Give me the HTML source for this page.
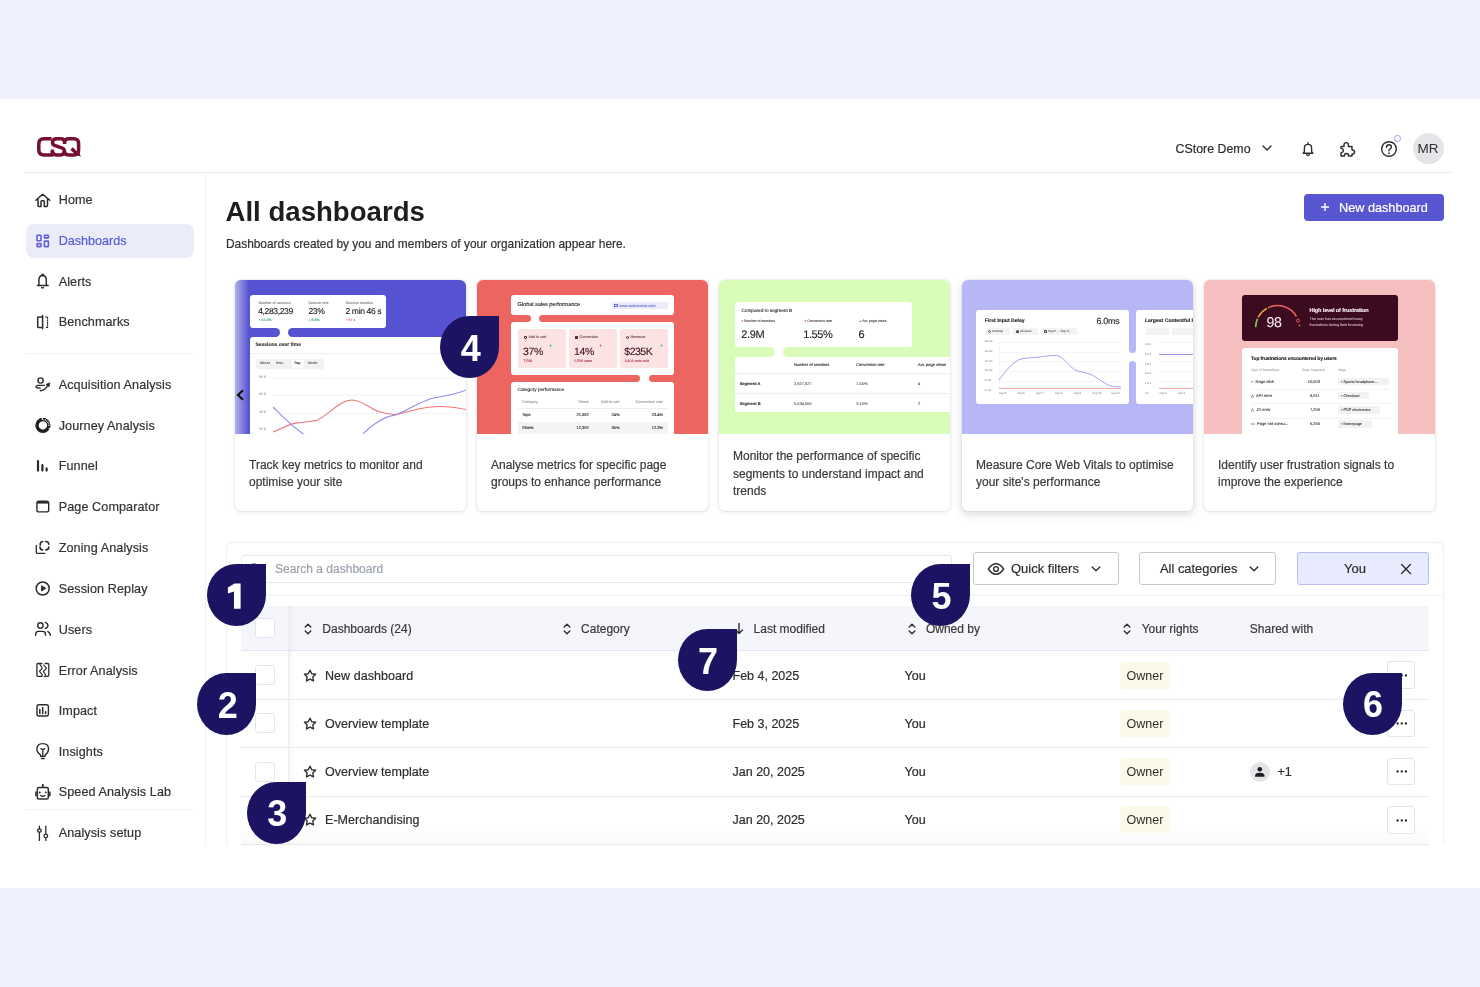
<!DOCTYPE html>
<html><head><meta charset="utf-8">
<style>
*{box-sizing:border-box;margin:0;padding:0}
html,body{width:1480px;height:987px;overflow:hidden}
body{background:#eff2fd;font-family:"Liberation Sans",sans-serif;color:#2b2b2b;position:relative}
.a{position:absolute}
.t{position:absolute;white-space:nowrap;line-height:1;-webkit-text-stroke:0.2px currentColor}
svg{position:absolute;overflow:visible}
.panel{left:0;top:99px;width:1480px;height:789px;background:#fff}
.nav{left:58.7px;font-size:12.6px;color:#333;letter-spacing:0.1px}
.ic{fill:none;stroke:#2e2e2e;stroke-width:1.4;stroke-linecap:round;stroke-linejoin:round}
.hd{font-size:12px;color:#3a3a3a}
.rw{font-size:12.5px;color:#2e2e2e}
.card{position:absolute;top:280px;width:231px;height:231px;background:#fff;border-radius:6px;box-shadow:0 0 0 1px rgba(20,30,70,0.035),0 1px 4px rgba(20,30,70,0.11);overflow:hidden}
.card .img{position:absolute;left:0;top:0;width:231px;height:154px;overflow:hidden}
.card .txt{position:absolute;left:14px;top:434px;font-size:12px;line-height:17.3px;color:#3a3a3a;-webkit-text-stroke:0.2px currentColor}
.wb{position:absolute;background:#fff;border-radius:3px}
.tiny{position:absolute;white-space:nowrap;line-height:1;font-size:4px;color:#999;text-rendering:geometricPrecision;-webkit-text-stroke:0.12px currentColor}
.badge{position:absolute;width:59px;height:62px;background:#1c1462;border-radius:50% 0 50% 50%;color:#fff;font-weight:bold;font-size:36px;text-align:center;line-height:62px;padding-left:2px;padding-top:1.7px}
.chk{position:absolute;left:254.5px;width:20px;height:20px;border:1px solid #e4e5ea;border-radius:3px;background:#fff}
.more{position:absolute;left:1387px;width:27.6px;height:27.8px;border:1px solid #e4e5ea;border-radius:3px;background:#fff}
.owner{position:absolute;left:1120px;width:50px;height:27px;background:#fbf9e9;border-radius:3px;font-size:12.5px;color:#2e2e2e;line-height:27px;text-align:center;padding-top:1px}
.rline{position:absolute;left:240.5px;width:1188.5px;height:1px;background:#ebecf0}
</style></head><body><div style="position:absolute;left:0;top:0;width:1480px;height:987px;will-change:transform;overflow:hidden">
<div class="a panel"></div>
<!-- HEADER -->
<svg style="left:37px;top:136.7px" width="44" height="20" viewBox="0 0 44 20">
<g fill="none" stroke="#76102f" stroke-width="3.5" stroke-linejoin="round">
<path d="M15.4 12.4V17.9H7Q1.8 17.9 1.8 12.7V7Q1.8 1.8 7 1.8H14.6"/>
<path d="M27.6 6.9V5.6Q27.6 1.8 23.8 1.8H19.8Q15.5 1.8 15.5 5.6Q15.5 7.6 17.6 8.4L25.3 11.2Q27.4 12 27.4 14.3V13.8Q27.4 17.9 23.6 17.9H19.5Q15.4 17.9 15.4 14"/>
<path d="M27.6 5.6Q27.6 1.8 31.4 1.8H36.8Q41.6 1.8 41.6 6.8V12.9Q41.6 17.9 36.8 17.9H31.3Q27.4 17.9 27.4 14"/>
<path d="M34.6 11.4L39.6 16.4" stroke-linejoin="miter"/>
</g>
<path d="M37.3 17.6L43.9 19.5L41.4 13.6Z" fill="#76102f"/>
</svg>
<div class="a" style="left:24px;top:172px;width:1428px;height:1px;background:#ececef"></div>
<div class="t" style="left:1175.5px;top:142.8px;font-size:12.4px;color:#2e2e2e">CStore Demo</div>
<svg style="left:1262px;top:145px" width="10" height="6" viewBox="0 0 10 6"><path d="M1 1L5 5L9 1" class="ic" stroke-width="1.5"/></svg>
<!-- bell -->
<svg style="left:1300px;top:141px" width="16" height="16" viewBox="0 0 16 16"><path class="ic" stroke-width="1.5" d="M3.2 12.2H12.8L11.6 10.6V7Q11.6 3.4 8 3.4Q4.4 3.4 4.4 7V10.6Z M8 1.6V3.2 M6.6 13.8Q8 15 9.4 13.8"/></svg>
<!-- puzzle -->
<svg style="left:1339px;top:140px" width="18" height="18" viewBox="0 0 18 18"><path class="ic" stroke-width="1.5" d="M2 6.5H5V5Q5 2.6 7.2 2.6Q9.4 2.6 9.4 5V6.5H13V10Q15.6 10 15.6 12.1Q15.6 14.2 13 14.2V16H9.6Q9.6 13.5 7.5 13.5Q5.4 13.5 5.4 16H2V12.6Q4.3 12.6 4.3 10.5Q4.3 8.4 2 8.4Z"/></svg>
<!-- help -->
<svg style="left:1380px;top:140px" width="18" height="18" viewBox="0 0 18 18"><circle cx="9" cy="9" r="7.3" class="ic" stroke-width="1.5"/><path class="ic" stroke-width="1.5" d="M6.6 7.2Q6.6 4.8 9 4.8Q11.4 4.8 11.4 7Q11.4 8.4 9.8 9.2Q9 9.6 9 10.8"/><circle cx="9" cy="13.2" r="0.9" fill="#2e2e2e"/></svg>
<div class="a" style="left:1394px;top:135px;width:6.5px;height:6.5px;border-radius:50%;border:1.3px solid #9ea0f0;background:#fff"></div>
<div class="a" style="left:1412.5px;top:132.5px;width:31px;height:31px;border-radius:50%;background:#e5e5e9;font-size:13.5px;color:#2e2e2e;text-align:center;line-height:31px">MR</div>

<!-- SIDEBAR -->
<div class="a" style="left:205px;top:173px;width:1px;height:672px;background:#f1f1f3"></div>
<div class="a" style="left:26px;top:224px;width:168px;height:33.5px;background:#eaedf8;border-radius:8px"></div>
<div class="a" style="left:26px;top:352.5px;width:168px;height:1px;background:#f0f0f2"></div>
<div class="a" style="left:26px;top:808.5px;width:168px;height:1px;background:#f0f0f2"></div>

<div class="t nav" style="top:193.7px">Home</div>
<div class="t nav" style="top:235.1px;color:#5b5bd6;letter-spacing:0">Dashboards</div>
<div class="t nav" style="top:275.8px">Alerts</div>
<div class="t nav" style="top:316.3px">Benchmarks</div>
<div class="t nav" style="top:378.7px">Acquisition Analysis</div>
<div class="t nav" style="top:419.8px">Journey Analysis</div>
<div class="t nav" style="top:460.4px">Funnel</div>
<div class="t nav" style="top:501.4px">Page Comparator</div>
<div class="t nav" style="top:542.0px">Zoning Analysis</div>
<div class="t nav" style="top:582.7px">Session Replay</div>
<div class="t nav" style="top:623.5px">Users</div>
<div class="t nav" style="top:664.5px">Error Analysis</div>
<div class="t nav" style="top:705.1px">Impact</div>
<div class="t nav" style="top:745.7px">Insights</div>
<div class="t nav" style="top:786.2px">Speed Analysis Lab</div>
<div class="t nav" style="top:827.4px">Analysis setup</div>

<!-- sidebar icons (image coords) -->
<svg style="left:0;top:0" width="220" height="900" viewBox="0 0 220 900">
<g fill="none" stroke="#2b2b2b" stroke-width="1.5" stroke-linecap="round" stroke-linejoin="round">
<path d="M35.9 200.3L42.7 194.2L49.8 200.3 M38 199V205.6Q38 206.4 38.8 206.4H41V201.6Q41 200.8 41.8 200.8H43.5Q44.3 200.8 44.3 201.6V206.4H46.7Q47.5 206.4 47.5 205.6V199"/>
<path d="M37.4 285.5H48.2 M38.9 285.3V280.2Q38.9 275.4 42.6 275.4Q46.3 275.4 46.3 280.2V285.3"/>
<circle cx="42.6" cy="274.9" r="0.6" fill="#2b2b2b"/>
<path d="M41.6 287.4Q42.6 288.6 43.6 287.4" stroke-width="1.3"/>
<path d="M42.5 316.9H38.4Q37.7 316.9 37.7 317.6V326.8Q37.7 327.5 38.4 327.5H42.5 M42.6 315.5V328.7"/>
<path d="M45.5 317H47.6V327.4H45.5" stroke-width="1.1" stroke-dasharray="1.1 1.4"/>
<circle cx="40.6" cy="380.5" r="2.6" stroke-width="1.4"/>
<path d="M44.3 385.4H37.6Q35.7 385.9 36 387.1Q36.5 388.1 40.4 388.1" stroke-width="1.4"/>
<path d="M40.3 390.7Q46.5 390.2 48 384.2" stroke-width="1.4"/>
<path d="M46.4 384.3L49.9 382.9L49.1 386.5Z" fill="#2b2b2b" stroke-width="0.8"/>
<path d="M38 461.2V470.6 M42.4 465V470.6 M46.6 468.4V470.6" stroke-width="2.2"/>
<rect x="36.9" y="501.3" width="11.8" height="10.6" rx="2" stroke-width="1.4"/>
<path d="M37 502.4H48.6" stroke-width="2.4" stroke-linecap="butt"/>
<path d="M40.2 545.2Q39.9 541.8 42.8 541.5 M45.7 541.5Q48.7 541.6 48.8 544.2 M48.8 547.1Q48.7 549.7 45.9 549.9 M42.6 549.9Q39.9 549.7 40 547" stroke-width="1.6"/>
<path d="M36.3 545.3V552.2Q36.3 553.4 37.5 553.4H44.8" stroke-width="1.3"/>
<circle cx="42.7" cy="588.5" r="6.5"/>
<path d="M41.7 586V591L45.3 588.5Z" fill="#2b2b2b" stroke-width="1"/>
<circle cx="40.4" cy="625.4" r="2.7" stroke-width="1.4"/>
<path d="M45.4 622.3Q47.9 623.2 47.9 625.4Q47.9 627.6 45.4 628.5 M35.7 635.3V634Q35.7 631.4 38.4 631.4H42.6Q45.5 631.4 45.5 634V635.3 M47.9 631.6Q50.3 632.6 50.3 635.3" stroke-width="1.4"/>
<path d="M41.9 663.5H38Q36.9 663.5 36.9 664.6V675.2Q36.9 676.3 38 676.3H41.9 M45.2 663.5H47.7Q48.8 663.5 48.8 664.6V675.2Q48.8 676.3 47.7 676.3H44.1" stroke-width="1.3"/>
<path d="M39.9 664.2L42.4 668.2L39.4 671.4L42.3 674.7L41.6 676.2 M43.7 665L46.4 668.4L43.4 671.4L45.8 675.3" stroke-width="1.2"/>
<rect x="37" y="704.8" width="11.4" height="11.2" rx="2" stroke-width="1.4"/>
<path d="M39.8 709.5V713.5 M42.7 707.4V713.5 M45.6 711.8V713.5" stroke-width="1.5"/>
<path d="M40.5 754.8Q36.9 752.5 36.9 749Q36.9 743.6 42.8 743.6Q48.6 743.6 48.6 749Q48.6 752.5 45.2 754.8L45 756.4H40.7Z" stroke-width="1.4"/>
<path d="M41 748.6L42.8 749.8L44.6 748.6 M42.8 749.8V755.6 M41.4 758.5H44.2" stroke-width="1.3"/>
<rect x="37.4" y="787.4" width="10.9" height="11.6" rx="1.6" stroke-width="1.5"/>
<path d="M42.8 787V785.6 M35.9 792V795.8 M49.8 792V795.8 M40.8 795.5Q42.8 796.9 44.8 795.5" stroke-width="1.5"/>
<path d="M39.4 826.2V829 M39.4 832.2V840.4 M45.8 826.2V833.4 M45.8 838.6V840.4" stroke-width="1.3"/>
<circle cx="39.4" cy="830.6" r="1.8" stroke-width="1.3"/>
<circle cx="45.8" cy="836" r="1.8" stroke-width="1.3"/>
</g>
<g fill="#2b2b2b"><circle cx="42.8" cy="785.1" r="1"/><circle cx="39.8" cy="792.4" r="0.95"/><circle cx="45.8" cy="792.4" r="0.95"/></g>
<g fill="none" stroke="#6060d8" stroke-width="1.6"><rect x="37" y="235.3" width="4" height="5.4" rx="0.5"/><rect x="44.4" y="235.3" width="4" height="2.6" rx="0.5"/><rect x="37" y="243.6" width="4" height="3" rx="0.5"/><rect x="44.4" y="241.1" width="4" height="5.5" rx="0.5"/></g>
<circle cx="42.9" cy="425.4" r="5.9" fill="none" stroke="#1e1e1e" stroke-width="3.4"/>
<path d="M42.3 417.2V420 M48.6 428.1L51.2 429.4" stroke="#fff" stroke-width="1"/>
<path d="M43.6 419.6A5.9 5.9 0 0 1 48.7 426.4" fill="none" stroke="#fff" stroke-width="1.6" stroke-dasharray="0.7 0.9"/>
</svg>

<!-- TITLE -->
<div class="t" style="left:225.5px;top:197.7px;font-size:27.6px;font-weight:bold;color:#1e1e1e;letter-spacing:0px;-webkit-text-stroke:0">All dashboards</div>
<div class="t" style="left:226px;top:238.9px;font-size:11.9px;color:#333">Dashboards created by you and members of your organization appear here.</div>
<div class="a" style="left:1304px;top:193.5px;width:139.5px;height:27.7px;background:#5956d2;border-radius:4px"></div>
<svg style="left:1320px;top:202px" width="10" height="10" viewBox="0 0 10 10"><path d="M5 1V9M1 5H9" stroke="#fff" stroke-width="1.4" fill="none"/></svg>
<div class="t" style="left:1339px;top:201.8px;font-size:12.7px;color:#fff">New dashboard</div>

<!-- CARDS -->
<!-- card 1 -->
<div class="card" style="left:235px">
 <div class="img" style="background:#5553d1">
  <div class="wb" style="left:14.7px;top:14.7px;width:136.6px;height:33px"></div>
  <div class="a" style="left:30px;top:47.5px;width:38px;height:9.5px;background:#fff"></div>
  <div class="a" style="left:0;top:47.6px;width:45.2px;height:9.3px;background:#5553d1;border-radius:0 4.6px 4.6px 0"></div>
  <div class="a" style="left:52.7px;top:47.6px;width:190px;height:9.3px;background:#5553d1;border-radius:4.6px 0 0 4.6px"></div>
  <div class="wb" style="left:14.7px;top:56.8px;width:230px;height:110px;border-radius:3px 0 0 0"></div>
  <div class="a" style="left:0;top:0;width:14px;height:154px;background:linear-gradient(90deg,rgba(255,255,255,0.55),rgba(255,255,255,0))"></div>
  <div class="tiny" style="left:23.4px;top:21.6px;font-size:3.7px;color:#888">Number of sessions</div>
  <div class="tiny" style="left:73.6px;top:21.6px;font-size:3.7px;color:#888">Bounce rate</div>
  <div class="tiny" style="left:110.7px;top:21.6px;font-size:3.7px;color:#888">Session duration</div>
  <div class="tiny" style="left:23.2px;top:27.4px;font-size:8.6px;color:#1e1e1e;letter-spacing:-0.4px">4,283,239</div>
  <div class="tiny" style="left:73.4px;top:27.4px;font-size:8.6px;color:#1e1e1e;letter-spacing:-0.4px">23%</div>
  <div class="tiny" style="left:110.5px;top:27.4px;font-size:8.6px;color:#1e1e1e;letter-spacing:-0.4px">2 min 46 s</div>
  <div class="tiny" style="left:23.4px;top:38.7px;font-size:3.6px;color:#3aa76d">↑ 22.4%</div>
  <div class="tiny" style="left:73.6px;top:38.7px;font-size:3.6px;color:#3aa76d">↓ 8.8%</div>
  <div class="tiny" style="left:110.7px;top:38.7px;font-size:3.6px;color:#e05a5a">↑ 57 s</div>
  <div class="tiny" style="left:20.4px;top:62.5px;font-size:5px;color:#333;font-weight:bold">Sessions over time</div>
  <div class="a" style="left:14.7px;top:72.6px;width:220px;height:0.8px;background:#f0f0f2"></div>
  <div class="a" style="left:20.9px;top:79.4px;width:68.5px;height:9.5px;background:#f2f2f4;border-radius:1.5px"></div>
  <div class="a" style="left:56.8px;top:80.2px;width:12.6px;height:8px;background:#fff;border-radius:1px"></div>
  <div class="tiny" style="left:25px;top:82.4px;font-size:3.4px;color:#666">Minute</div>
  <div class="tiny" style="left:41px;top:82.4px;font-size:3.4px;color:#666">Hour</div>
  <div class="tiny" style="left:59.5px;top:82.4px;font-size:3.4px;color:#333">Day</div>
  <div class="tiny" style="left:73px;top:82.4px;font-size:3.4px;color:#666">Month</div>
  <div class="tiny" style="left:24px;top:96px;font-size:3.4px;color:#aaa">80 K</div>
  <div class="tiny" style="left:24px;top:113.3px;font-size:3.4px;color:#aaa">60 K</div>
  <div class="tiny" style="left:24px;top:130.5px;font-size:3.4px;color:#aaa">40 K</div>
  <div class="tiny" style="left:24px;top:148px;font-size:3.4px;color:#aaa">20 K</div>
  <div class="a" style="left:36.8px;top:97.8px;width:200px;height:0.6px;background:#f4f4f6"></div>
  <div class="a" style="left:36.8px;top:115px;width:200px;height:0.6px;background:#f4f4f6"></div>
  <div class="a" style="left:36.8px;top:132.8px;width:200px;height:0.6px;background:#f4f4f6"></div>
  <svg style="left:0;top:0" width="231" height="154" viewBox="0 0 231 154">
   <path d="M38.1 152.1C48 148 55 143.5 62 142.9S76 141 81.9 140.4C95 134 105 120 117 120C128 120 136 130 145.4 132C154 134 160 135 162 134.6C175 131 185 128 195.6 127C205 126 215 126 231 129.5" fill="none" stroke="#f07474" stroke-width="1.1"/>
   <path d="M38.1 127C47 136 58 148 70 155 M127 155C135 146 148 137 158.8 135.4C170 132 182 123 195.6 118.7C208 116 220 115 231 110" fill="none" stroke="#8e8ef4" stroke-width="1.1"/>
  </svg>
  <svg style="left:0.5px;top:109px" width="9" height="12" viewBox="0 0 9 12"><path d="M7 1.2L2 6L7 10.8" fill="none" stroke="#111" stroke-width="2.2"/></svg>
 </div>
 <div class="txt" style="top:155.8px;height:77px;display:flex;align-items:center">Track key metrics to monitor and<br>optimise your site</div>
</div>

<!-- card 2 -->
<div class="card" style="left:477px">
 <div class="img" style="background:#ec6561">
  <div class="wb" style="left:34.4px;top:14.7px;width:162.5px;height:20.1px"></div>
  <div class="wb" style="left:34.4px;top:42.3px;width:162.5px;height:52.7px"></div>
  <div class="wb" style="left:34.4px;top:102px;width:162.5px;height:60px;border-radius:3px 3px 0 0"></div>
  <div class="a" style="left:40px;top:34.6px;width:36px;height:7.8px;background:#fff"></div>
  <div class="a" style="left:150px;top:94.8px;width:35px;height:7.3px;background:#fff"></div>
  <div class="a" style="left:20px;top:35px;width:33.7px;height:7px;background:#ec6561;border-radius:0 3.5px 3.5px 0"></div>
  <div class="a" style="left:62.3px;top:35px;width:150px;height:7px;background:#ec6561;border-radius:3.5px 0 0 3.5px"></div>
  <div class="a" style="left:20px;top:95.2px;width:143.1px;height:6.8px;background:#ec6561;border-radius:0 3.4px 3.4px 0"></div>
  <div class="a" style="left:171.8px;top:95.2px;width:40px;height:6.8px;background:#ec6561;border-radius:3.4px 0 0 3.4px"></div>
  <div class="tiny" style="left:40.6px;top:23px;font-size:5.6px;color:#2a2a2a;letter-spacing:-0.05px">Global sales performance</div>
  <div class="a" style="left:134.7px;top:21.9px;width:56.3px;height:7px;background:#ebebfc;border-radius:1px"></div>
  <div class="tiny" style="left:142.5px;top:23.8px;font-size:3.9px;color:#7070e0">www.activewear.com</div>
  <div class="a" style="left:137.4px;top:23.6px;width:3.6px;height:3.4px;border:0.6px solid #6b6be0;border-top-width:1px;border-radius:0.5px"></div>
  <div class="a" style="left:40.6px;top:48.5px;width:48px;height:39.6px;background:#fbe3e3;border-radius:2px"></div>
  <div class="a" style="left:91.9px;top:48.5px;width:47.8px;height:39.6px;background:#fbe3e3;border-radius:2px"></div>
  <div class="a" style="left:142.7px;top:48.5px;width:48.3px;height:39.6px;background:#fbe3e3;border-radius:2px"></div>
  <div class="tiny" style="left:51.5px;top:55.8px;font-size:3.7px;color:#7a4a58">Add to cart</div>
  <div class="tiny" style="left:102.5px;top:55.8px;font-size:3.7px;color:#7a4a58">Conversion</div>
  <div class="tiny" style="left:153.5px;top:55.8px;font-size:3.7px;color:#7a4a58">Revenue</div>
  <div class="a" style="left:47px;top:56.3px;width:3px;height:2.8px;border:0.6px solid #5a2a38;border-radius:0 0 1px 1px"></div>
  <div class="a" style="left:97.8px;top:56.3px;width:3px;height:2.8px;background:#5a2a38;border-radius:0.5px"></div>
  <div class="a" style="left:148.6px;top:56.2px;width:3px;height:3px;border:0.6px solid #5a2a38;border-radius:50%"></div>
  <div class="tiny" style="left:46px;top:67px;font-size:10.5px;color:#3d1020;letter-spacing:-0.3px">37%</div>
  <div class="tiny" style="left:97px;top:67px;font-size:10.5px;color:#3d1020;letter-spacing:-0.3px">14%</div>
  <div class="tiny" style="left:147.3px;top:67px;font-size:10.5px;color:#3d1020;letter-spacing:-0.5px">$235K</div>
  <div class="tiny" style="left:72.2px;top:64px;font-size:4.4px;color:#3aa76d;font-weight:bold">+</div>
  <div class="tiny" style="left:122.3px;top:64px;font-size:4.4px;color:#e05a5a;font-weight:bold">+</div>
  <div class="tiny" style="left:183.3px;top:64px;font-size:4.4px;color:#3aa76d;font-weight:bold">+</div>
  <div class="tiny" style="left:46.5px;top:80.2px;font-size:3.5px;color:#b04060">7,549</div>
  <div class="tiny" style="left:97px;top:80.2px;font-size:3.5px;color:#b04060">1,509 users</div>
  <div class="tiny" style="left:147.7px;top:80.2px;font-size:3.5px;color:#b04060">3,404 units sold</div>
  <div class="tiny" style="left:40.6px;top:107.8px;font-size:4.7px;color:#2a2a2a">Category performance</div>
  <div class="tiny" style="left:45px;top:119.5px;font-size:3.9px;color:#999">Category</div>
  <div class="tiny" style="right:119.3px;top:119.5px;font-size:3.9px;color:#999">Views</div>
  <div class="tiny" style="right:88.4px;top:119.5px;font-size:3.9px;color:#999">Add to cart</div>
  <div class="tiny" style="right:45px;top:119.5px;font-size:3.9px;color:#999">Conversion rate</div>
  <div class="a" style="left:40.6px;top:128.3px;width:150px;height:0.6px;background:#eee"></div>
  <div class="tiny" style="left:45px;top:133px;font-size:4px;color:#2a2a2a">Tops</div>
  <div class="tiny" style="right:119.3px;top:133px;font-size:4px;color:#2a2a2a">21,382</div>
  <div class="tiny" style="right:88.4px;top:133px;font-size:4px;color:#2a2a2a">24%</div>
  <div class="tiny" style="right:45px;top:133px;font-size:4px;color:#2a2a2a">23.4%</div>
  <div class="a" style="left:40.6px;top:142px;width:150px;height:12px;background:#f4f4f2"></div>
  <div class="tiny" style="left:45px;top:146px;font-size:4px;color:#2a2a2a">Shorts</div>
  <div class="tiny" style="right:119.3px;top:146px;font-size:4px;color:#2a2a2a">12,392</div>
  <div class="tiny" style="right:88.4px;top:146px;font-size:4px;color:#2a2a2a">36%</div>
  <div class="tiny" style="right:45px;top:146px;font-size:4px;color:#2a2a2a">12.3%</div>
 </div>
 <div class="txt" style="top:155.8px;height:77px;display:flex;align-items:center">Analyse metrics for specific page<br>groups to enhance performance</div>
</div>

<!-- card 3 -->
<div class="card" style="left:719px">
 <div class="img" style="background:#dafcb9">
  <div class="wb" style="left:15.7px;top:21.7px;width:177.5px;height:45.2px"></div>
  <div class="a" style="left:42px;top:66.7px;width:36px;height:10.3px;background:#fff"></div>
  <div class="a" style="left:0;top:66.9px;width:55.8px;height:10.1px;background:#dafcb9;border-radius:0 5px 5px 0"></div>
  <div class="a" style="left:63.7px;top:66.9px;width:180px;height:10.1px;background:#dafcb9;border-radius:5px 0 0 5px"></div>
  <div class="wb" style="left:15.7px;top:76.9px;width:230px;height:55.1px;border-radius:3px 0 0 3px"></div>
  <div class="tiny" style="left:22.4px;top:29.3px;font-size:4.7px;color:#2a2a2a">Compared to segment B</div>
  <div class="tiny" style="left:22.4px;top:40.4px;font-size:3.5px;color:#555"><span style="color:#e05a5a">▾</span> Number of sessions</div>
  <div class="tiny" style="left:85.4px;top:40.4px;font-size:3.5px;color:#555"><span style="color:#e05a5a">▾</span> Conversion rate</div>
  <div class="tiny" style="left:140.6px;top:40.4px;font-size:3.5px;color:#555"><span style="color:#3aa76d">▴</span> Avr. page views</div>
  <div class="tiny" style="left:22.2px;top:49.7px;font-size:11px;color:#222;letter-spacing:-0.3px">2.9M</div>
  <div class="tiny" style="left:84.2px;top:49.7px;font-size:11px;color:#222;letter-spacing:-0.4px">1.55%</div>
  <div class="tiny" style="left:139.4px;top:49.7px;font-size:11px;color:#222">6</div>
  <div class="tiny" style="left:74.9px;top:82.6px;font-size:4px;color:#333">Number of sessions</div>
  <div class="tiny" style="left:137.2px;top:82.6px;font-size:4px;color:#333">Conversion rate</div>
  <div class="tiny" style="left:199.1px;top:82.6px;font-size:4px;color:#333">Avr. page views</div>
  <div class="a" style="left:15.7px;top:93.3px;width:220px;height:0.7px;background:#eceef0"></div>
  <div class="a" style="left:15.7px;top:113.3px;width:220px;height:0.7px;background:#eceef0"></div>
  <div class="tiny" style="left:20.7px;top:102.2px;font-size:4px;color:#333;font-weight:bold">Segment A</div>
  <div class="tiny" style="left:74.9px;top:102.2px;font-size:4px;color:#666">2,627,827</div>
  <div class="tiny" style="left:137.2px;top:102.2px;font-size:4px;color:#666">1.55%</div>
  <div class="tiny" style="left:199.1px;top:102.2px;font-size:4px;color:#666">4</div>
  <div class="tiny" style="left:20.7px;top:121.8px;font-size:4px;color:#333;font-weight:bold">Segment B</div>
  <div class="tiny" style="left:74.9px;top:121.8px;font-size:4px;color:#666">5,534,565</div>
  <div class="tiny" style="left:137.2px;top:121.8px;font-size:4px;color:#666">3.10%</div>
  <div class="tiny" style="left:199.1px;top:121.8px;font-size:4px;color:#666">2</div>
 </div>
 <div class="txt" style="top:155.8px;height:77px;display:flex;align-items:center">Monitor the performance of specific<br>segments to understand impact and<br>trends</div>
</div>

<!-- card 4 -->
<div class="card" style="left:962px;box-shadow:0 0 0 1px rgba(0,0,0,0.03),0 3px 10px rgba(0,0,0,0.16)">
 <div class="img" style="background:#b7b7f7">
  <div class="wb" style="left:14px;top:30.1px;width:153.3px;height:93.6px"></div>
  <div class="wb" style="left:174.3px;top:30.1px;width:80px;height:93.6px"></div>
  <div class="a" style="left:167.1px;top:60px;width:7.4px;height:34px;background:#fff"></div>
  <div class="a" style="left:167.2px;top:20px;width:7.2px;height:52.7px;background:#b7b7f7;border-radius:0 0 3.6px 3.6px"></div>
  <div class="a" style="left:167.2px;top:81.1px;width:7.2px;height:60px;background:#b7b7f7;border-radius:3.6px 3.6px 0 0"></div>
  <div class="tiny" style="left:22.7px;top:39px;font-size:5.1px;color:#222;font-weight:bold">First Input Delay</div>
  <div class="tiny" style="left:134.4px;top:36.5px;font-size:8.8px;color:#222;letter-spacing:-0.2px">6.0ms</div>
  <div class="a" style="left:23px;top:48.2px;width:24.8px;height:6.6px;background:#f3f3f5;border-radius:1px"></div>
  <div class="a" style="left:50.8px;top:48.2px;width:25.1px;height:6.6px;background:#f3f3f5;border-radius:1px"></div>
  <div class="a" style="left:78.7px;top:48.2px;width:36px;height:6.6px;background:#f3f3f5;border-radius:1px"></div>
  <div class="tiny" style="left:30px;top:50.2px;font-size:3px;color:#777">Desktop</div>
  <div class="tiny" style="left:58px;top:50.2px;font-size:3px;color:#777">All users</div>
  <div class="tiny" style="left:86px;top:50.2px;font-size:3px;color:#777">Sep 5 → Sep 11</div>
  <div class="a" style="left:25.5px;top:49.5px;width:3px;height:3px;border:0.6px solid #555;border-radius:50%"></div>
  <div class="a" style="left:53.5px;top:49.5px;width:3px;height:3px;background:#555;border-radius:50% 50% 0 0"></div>
  <div class="a" style="left:81.5px;top:49.5px;width:3.4px;height:3.4px;border:0.6px solid #555"></div>
  <div class="tiny" style="left:22.8px;top:60.3px;font-size:2.8px;color:#aaa">40 ms</div>
  <div class="tiny" style="left:22.8px;top:70px;font-size:2.8px;color:#aaa">30 ms</div>
  <div class="tiny" style="left:22.8px;top:79.6px;font-size:2.8px;color:#aaa">27 ms</div>
  <div class="tiny" style="left:22.8px;top:89.4px;font-size:2.8px;color:#aaa">18 ms</div>
  <div class="tiny" style="left:22.8px;top:99px;font-size:2.8px;color:#aaa">9 ms</div>
  <div class="tiny" style="left:22.8px;top:108.7px;font-size:2.8px;color:#aaa">0 ms</div>
  <div class="a" style="left:37px;top:61.9px;width:122px;height:0.5px;background:#f5f5f9"></div>
  <div class="a" style="left:37px;top:71.5px;width:122px;height:0.5px;background:#f5f5f9"></div>
  <div class="a" style="left:37px;top:81.2px;width:122px;height:0.5px;background:#f5f5f9"></div>
  <div class="a" style="left:37px;top:91px;width:122px;height:0.5px;background:#f5f5f9"></div>
  <div class="a" style="left:37px;top:100.6px;width:122px;height:0.5px;background:#f5f5f9"></div>
  <div class="a" style="left:37px;top:61.9px;width:0.5px;height:47px;background:#f5f5f9"></div>
  <div class="a" style="left:37px;top:108.4px;width:122px;height:0.7px;background:#f4a3a3"></div>
  <div class="tiny" style="left:37px;top:112.4px;font-size:2.8px;color:#aaa">Sep 5</div><div class="tiny" style="left:55.5px;top:112.4px;font-size:2.8px;color:#aaa">Sep 6</div><div class="tiny" style="left:74px;top:112.4px;font-size:2.8px;color:#aaa">Sep 7</div><div class="tiny" style="left:93px;top:112.4px;font-size:2.8px;color:#aaa">Sep 8</div><div class="tiny" style="left:111.8px;top:112.4px;font-size:2.8px;color:#aaa">Sep 9</div><div class="tiny" style="left:130.5px;top:112.4px;font-size:2.8px;color:#aaa">Sep 10</div><div class="tiny" style="left:149.3px;top:112.4px;font-size:2.8px;color:#aaa">Sep 11</div><div class="tiny" style="left:197.4px;top:112.4px;font-size:2.8px;color:#aaa">Sep 5</div><div class="tiny" style="left:216px;top:112.4px;font-size:2.8px;color:#aaa">Sep 6</div>
  <svg style="left:0;top:0" width="231" height="154" viewBox="0 0 231 154">
   <path d="M37 100C42 93 48 85 56 80C61 78 66 78 73 77.5C80 77 88 75 94.6 75.5C101 76 108 87 113 90C118 92.5 123 92 128 94C133 96 140 102 148 106C153 107 156 107 159 106.6" fill="none" stroke="#8c8cf0" stroke-width="0.8"/>
  </svg>
  <div class="tiny" style="left:182.9px;top:39px;font-size:5.1px;color:#222;font-weight:bold">Largest Contentful Paint</div>
  <div class="a" style="left:184px;top:48.2px;width:23.4px;height:6.6px;background:#f3f3f5;border-radius:1px"></div>
  <div class="a" style="left:210px;top:48.2px;width:25px;height:6.6px;background:#f3f3f5;border-radius:1px"></div>
  <div class="a" style="left:197.4px;top:61.9px;width:40px;height:0.5px;background:#f5f5f9"></div>
  <div class="a" style="left:197.4px;top:71.5px;width:40px;height:0.5px;background:#f5f5f9"></div>
  <div class="a" style="left:197.4px;top:81.2px;width:40px;height:0.5px;background:#f5f5f9"></div>
  <div class="a" style="left:197.4px;top:91px;width:40px;height:0.5px;background:#f5f5f9"></div>
  <div class="a" style="left:197.4px;top:100.6px;width:40px;height:0.5px;background:#f5f5f9"></div>
  <div class="a" style="left:197.4px;top:74.1px;width:40px;height:0.7px;background:#9a9af2"></div>
  <div class="a" style="left:197.4px;top:108.4px;width:40px;height:0.7px;background:#f4a3a3"></div>
  <div class="tiny" style="left:183px;top:60.3px;font-size:2.8px;color:#aaa;line-height:9.7px;white-space:pre">6.0 s
5.0 s
4.0 s
3.0 s
1.0 s
0 s</div>
 </div>
 <div class="txt" style="top:155.8px;height:77px;display:flex;align-items:center">Measure Core Web Vitals to optimise<br>your site's performance</div>
</div>

<!-- card 5 -->
<div class="card" style="left:1204px">
 <div class="img" style="background:#f4bfbe">
  <div class="a" style="left:38.1px;top:14.7px;width:155.5px;height:46.3px;background:#3d0b1f;border-radius:3px"></div>
  <svg style="left:35.6px;top:15.7px" width="156" height="47" viewBox="0 0 156 47">
   <path d="M15.7 31.3A21.5 21.5 0 0 1 17.6 22.5" fill="none" stroke="#7bd06a" stroke-width="1.6"/>
   <path d="M18.3 21.2A21.5 21.5 0 0 1 27 12.4" fill="none" stroke="#f2a93b" stroke-width="1.6"/>
   <path d="M28.2 11.7A21.5 21.5 0 0 1 56.4 20.5" fill="none" stroke="#e8625a" stroke-width="1.6"/>
   <circle cx="58" cy="24.6" r="1.5" fill="none" stroke="#e8625a" stroke-width="0.9"/>
   <circle cx="59.6" cy="29.4" r="0.9" fill="#e8625a"/>
  </svg>
  <div class="tiny" style="left:62.4px;top:36.2px;font-size:14.2px;color:#f1e6ea;letter-spacing:-0.2px">98</div>
  <div class="tiny" style="left:105.5px;top:29.4px;font-size:5.6px;color:#f5eef0;font-weight:bold;letter-spacing:-0.15px">High level of frustration</div>
  <div class="tiny" style="left:105.5px;top:37.4px;font-size:3.7px;color:#c9aab4;line-height:5.9px">The user has encountered many<br>frustrations during their browsing</div>
  <div class="wb" style="left:38.1px;top:68.2px;width:155.5px;height:90px;border-radius:3px 3px 0 0"></div>
  <div class="tiny" style="left:47px;top:77.8px;font-size:4.9px;color:#222;font-weight:bold;letter-spacing:-0.1px">Top frustrations encountered by users</div>
  <div class="tiny" style="left:47px;top:89px;font-size:3.3px;color:#aaa">Type of frustrations</div>
  <div class="tiny" style="left:98px;top:89px;font-size:3.3px;color:#aaa">Sess. impacted</div>
  <div class="tiny" style="left:134.4px;top:89px;font-size:3.3px;color:#aaa">Page</div>
  <div class="a" style="left:47px;top:109.2px;width:140px;height:0.5px;background:#f3f3f3"></div>
  <div class="a" style="left:47px;top:123.4px;width:140px;height:0.5px;background:#f3f3f3"></div>
  <div class="a" style="left:47px;top:137.5px;width:140px;height:0.5px;background:#f3f3f3"></div>
  <div class="a" style="left:134.4px;top:97.8px;width:50.5px;height:7.5px;background:#f2f2f2;border-radius:1px"></div>
  <div class="a" style="left:134.4px;top:111.9px;width:30.4px;height:7.5px;background:#f2f2f2;border-radius:1px"></div>
  <div class="a" style="left:134.4px;top:126.1px;width:42px;height:7.5px;background:#f2f2f2;border-radius:1px"></div>
  <div class="a" style="left:134.4px;top:140.3px;width:33.4px;height:7.5px;background:#f2f2f2;border-radius:1px"></div>
  <div class="tiny" style="left:47px;top:94.6px;font-size:4px;color:#444;line-height:14.15px;white-space:pre">◌  Rage click
△  API error
△  JS error
▭  Page not consu...</div>
  <div class="tiny" style="left:103.8px;top:94.6px;font-size:4px;color:#444;line-height:14.15px;white-space:pre">10,503
  8,911
  7,209
  6,256</div>
  <div class="tiny" style="left:137px;top:94.7px;font-size:3.8px;color:#444;line-height:14.15px;white-space:pre">▫ Sports headphone...
▫ Checkout
▫ PDP electronics
▫ Homepage</div>
 </div>
 <div class="txt" style="top:155.8px;height:77px;display:flex;align-items:center">Identify user frustration signals to<br>improve the experience</div>
</div>
<!-- TABLE -->
<div class="a" style="left:226px;top:541.8px;width:1218px;height:320px;border:1px solid #efeff2;border-radius:5px;background:#fff"></div>
<div class="a" style="left:240.5px;top:555px;width:711.5px;height:27.5px;border:1px solid #e6e7eb;border-radius:3px;background:#fff"></div>
<svg style="left:248px;top:562px" width="14" height="14" viewBox="0 0 14 14"><circle cx="6" cy="6" r="4.2" class="ic" style="stroke:#9a9a9a" stroke-width="1.3"/><path d="M9.2 9.2L12 12" class="ic" style="stroke:#9a9a9a" stroke-width="1.3"/></svg>
<div class="t" style="left:275px;top:563px;font-size:12px;color:#9ca2ad">Search a dashboard</div>
<div class="a" style="left:227px;top:595px;width:1216px;height:1px;background:#f2f2f4"></div>

<div class="a" style="left:972.8px;top:552px;width:146px;height:32.6px;border:1px solid #c6c7cf;border-radius:3px;background:#fff"></div>
<svg style="left:986.5px;top:562.3px" width="18" height="14" viewBox="0 0 18 14"><path class="ic" stroke-width="1.4" d="M1.4 7Q4.8 1.8 9 1.8Q13.2 1.8 16.6 7Q13.2 12.2 9 12.2Q4.8 12.2 1.4 7Z"/><circle cx="9" cy="7" r="2.4" class="ic" stroke-width="1.4"/></svg>
<div class="t" style="left:1011px;top:561.8px;font-size:13px;color:#2e2e2e">Quick filters</div>
<svg style="left:1090.5px;top:566px" width="10" height="6" viewBox="0 0 10 6"><path d="M1.2 1L5 4.8L8.8 1" class="ic" stroke-width="1.5"/></svg>
<div class="a" style="left:1139px;top:552px;width:137px;height:32.6px;border:1px solid #c6c7cf;border-radius:3px;background:#fff"></div>
<div class="t" style="left:1160px;top:562.6px;font-size:12.9px;color:#2e2e2e">All categories</div>
<svg style="left:1249px;top:566px" width="10" height="6" viewBox="0 0 10 6"><path d="M1.2 1L5 4.8L8.8 1" class="ic" stroke-width="1.5"/></svg>
<div class="a" style="left:1297px;top:552px;width:132px;height:32.6px;border:1px solid #b9bdf4;border-radius:3px;background:#e8eafd"></div>
<div class="t" style="left:1344px;top:561.8px;font-size:13px;color:#2e2e2e">You</div>
<svg style="left:1400.3px;top:563.3px" width="12" height="12" viewBox="0 0 12 12"><path d="M1.6 1.6L10.4 10.4M10.4 1.6L1.6 10.4" class="ic" stroke-width="1.7"/></svg>

<!-- header -->
<div class="a" style="left:240.5px;top:606px;width:1188.5px;height:45px;background:#f5f6fb;border-bottom:1px solid #e6e7ed"></div>
<div class="a" style="left:288px;top:606px;width:1px;height:239px;background:#ebecf0"></div>
<div class="a" style="left:289px;top:606px;width:6px;height:239px;background:linear-gradient(90deg,rgba(0,0,0,0.035),rgba(0,0,0,0))"></div>
<div class="chk" style="top:618px"></div>
<svg style="left:304px;top:622.5px" width="8" height="12" viewBox="0 0 8 12"><path d="M1.2 4L4 1.2L6.8 4M1.2 8L4 10.8L6.8 8" class="ic" stroke="#444" stroke-width="1.3"/></svg>
<div class="t hd" style="left:322.3px;top:622.5px">Dashboards (24)</div>
<svg style="left:562.8px;top:622.5px" width="8" height="12" viewBox="0 0 8 12"><path d="M1.2 4L4 1.2L6.8 4M1.2 8L4 10.8L6.8 8" class="ic" stroke="#444" stroke-width="1.3"/></svg>
<div class="t hd" style="left:581.1px;top:622.5px">Category</div>
<svg style="left:734px;top:621.5px" width="10" height="13" viewBox="0 0 10 13"><path d="M5 1.5V11.5M1.5 8L5 11.5L8.5 8" class="ic" stroke="#444" stroke-width="1.3"/></svg>
<div class="t hd" style="left:753.6px;top:622.5px">Last modified</div>
<svg style="left:908.3px;top:622.5px" width="8" height="12" viewBox="0 0 8 12"><path d="M1.2 4L4 1.2L6.8 4M1.2 8L4 10.8L6.8 8" class="ic" stroke="#444" stroke-width="1.3"/></svg>
<div class="t hd" style="left:925.9px;top:622.5px">Owned by</div>
<svg style="left:1123.3px;top:622.5px" width="8" height="12" viewBox="0 0 8 12"><path d="M1.2 4L4 1.2L6.8 4M1.2 8L4 10.8L6.8 8" class="ic" stroke="#444" stroke-width="1.3"/></svg>
<div class="t hd" style="left:1141.7px;top:622.5px">Your rights</div>
<div class="t hd" style="left:1249.8px;top:622.5px">Shared with</div>

<!-- rows -->
<div class="rline" style="top:699px"></div>
<div class="rline" style="top:747.3px"></div>
<div class="rline" style="top:795.5px"></div>
<div class="a" style="left:240.5px;top:822px;width:1188.5px;height:22px;background:linear-gradient(180deg,rgba(0,0,0,0),rgba(0,0,0,0.018))"></div>
<div class="rline" style="top:844px;background:#e6e7ea"></div>

<div class="chk" style="top:665px"></div>
<div class="chk" style="top:713.3px"></div>
<div class="chk" style="top:761.6px"></div>
<div class="chk" style="top:809.8px"></div>

<svg style="left:302.8px;top:668.5px" width="14" height="14" viewBox="0 0 14 14"><path class="ic" stroke-width="1.3" d="M7 1.2L8.75 4.75L12.6 5.3L9.8 8L10.5 11.9L7 10.05L3.5 11.9L4.2 8L1.4 5.3L5.25 4.75Z"/></svg>
<svg style="left:302.8px;top:716.8px" width="14" height="14" viewBox="0 0 14 14"><path class="ic" stroke-width="1.3" d="M7 1.2L8.75 4.75L12.6 5.3L9.8 8L10.5 11.9L7 10.05L3.5 11.9L4.2 8L1.4 5.3L5.25 4.75Z"/></svg>
<svg style="left:302.8px;top:765px" width="14" height="14" viewBox="0 0 14 14"><path class="ic" stroke-width="1.3" d="M7 1.2L8.75 4.75L12.6 5.3L9.8 8L10.5 11.9L7 10.05L3.5 11.9L4.2 8L1.4 5.3L5.25 4.75Z"/></svg>
<svg style="left:302.8px;top:813.3px" width="14" height="14" viewBox="0 0 14 14"><path class="ic" stroke-width="1.3" d="M7 1.2L8.75 4.75L12.6 5.3L9.8 8L10.5 11.9L7 10.05L3.5 11.9L4.2 8L1.4 5.3L5.25 4.75Z"/></svg>

<div class="t rw" style="left:325px;top:669.8px;letter-spacing:0.05px">New dashboard</div>
<div class="t rw" style="left:325px;top:718.0px;letter-spacing:0.05px">Overview template</div>
<div class="t rw" style="left:325px;top:766.2px;letter-spacing:0.05px">Overview template</div>
<div class="t rw" style="left:325px;top:814.4px;letter-spacing:0.05px">E-Merchandising</div>

<div class="t rw" style="left:732.5px;top:669.8px">Feb 4, 2025</div>
<div class="t rw" style="left:732.5px;top:718.0px">Feb 3, 2025</div>
<div class="t rw" style="left:732.5px;top:766.2px">Jan 20, 2025</div>
<div class="t rw" style="left:732.5px;top:814.4px">Jan 20, 2025</div>

<div class="t rw" style="left:904.5px;top:669.8px">You</div>
<div class="t rw" style="left:904.5px;top:718.0px">You</div>
<div class="t rw" style="left:904.5px;top:766.2px">You</div>
<div class="t rw" style="left:904.5px;top:814.4px">You</div>

<div class="owner" style="top:661.5px">Owner</div>
<div class="owner" style="top:709.8px">Owner</div>
<div class="owner" style="top:758px">Owner</div>
<div class="owner" style="top:806.3px">Owner</div>

<div class="a" style="left:1249.7px;top:761.7px;width:20.2px;height:20.2px;border-radius:50%;background:#e4e4e8"></div>
<svg style="left:1253.8px;top:765.8px" width="12" height="12" viewBox="0 0 12 12"><circle cx="5.8" cy="3.3" r="2.3" fill="#1e1e1e"/><path d="M1.1 10.7V9.6Q1.1 6.7 5.8 6.7Q10.5 6.7 10.5 9.6V10.7Z" fill="#1e1e1e"/></svg>
<div class="t rw" style="left:1277.5px;top:766.2px">+1</div>

<div class="more" style="top:661.3px"></div>
<div class="more" style="top:709.5px"></div>
<div class="more" style="top:757.7px"></div>
<div class="more" style="top:806.2px"></div>
<svg style="left:1395.5px;top:673px" width="12" height="4" viewBox="0 0 12 4"><g fill="#1e1e1e"><circle cx="1.6" cy="2.5" r="1.15"/><circle cx="5.8" cy="2.5" r="1.15"/><circle cx="9.9" cy="2.5" r="1.15"/></g></svg>
<svg style="left:1395.5px;top:721.2px" width="12" height="4" viewBox="0 0 12 4"><g fill="#1e1e1e"><circle cx="1.6" cy="2.5" r="1.15"/><circle cx="5.8" cy="2.5" r="1.15"/><circle cx="9.9" cy="2.5" r="1.15"/></g></svg>
<svg style="left:1395.5px;top:769.4px" width="12" height="4" viewBox="0 0 12 4"><g fill="#1e1e1e"><circle cx="1.6" cy="2.5" r="1.15"/><circle cx="5.8" cy="2.5" r="1.15"/><circle cx="9.9" cy="2.5" r="1.15"/></g></svg>
<svg style="left:1395.5px;top:817.9px" width="12" height="4" viewBox="0 0 12 4"><g fill="#1e1e1e"><circle cx="1.6" cy="2.5" r="1.15"/><circle cx="5.8" cy="2.5" r="1.15"/><circle cx="9.9" cy="2.5" r="1.15"/></g></svg>

<!-- clip bottom of app area -->
<div class="a" style="left:0;top:845px;width:1480px;height:43px;background:#fff"></div>

<!-- BADGES -->
<div class="badge" style="left:207px;top:564.2px"></div>
<svg style="left:0;top:0" width="300" height="700" viewBox="0 0 300 700"><path d="M227.9 587.6L234.6 583.6H240.6V608.8H234V591.4L227.9 593.6Z" fill="#fff"/></svg>
<div class="badge" style="left:197.3px;top:673.1px">2</div>
<div class="badge" style="left:246.8px;top:781.7px">3</div>
<div class="badge" style="left:440.2px;top:316.4px">4</div>
<div class="badge" style="left:911.1px;top:564.2px">5</div>
<div class="badge" style="left:1342.5px;top:672.8px">6</div>
<div class="badge" style="left:677.5px;top:629.2px">7</div>
</div></body></html>
